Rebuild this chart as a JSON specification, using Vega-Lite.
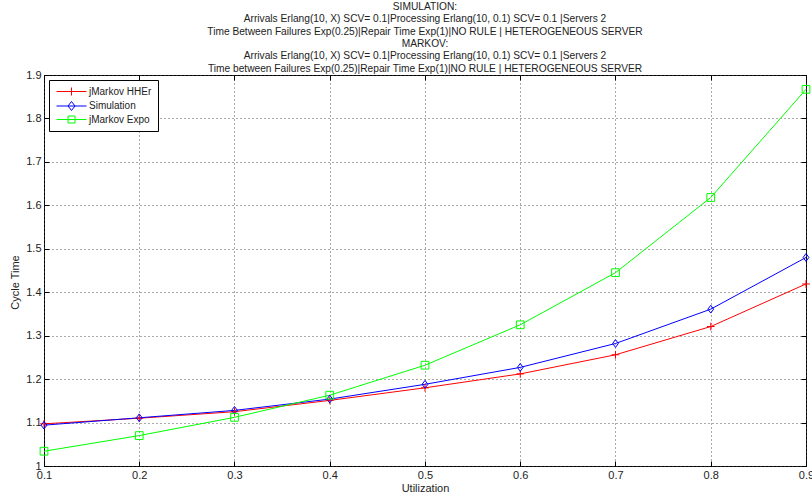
{
  "$schema": "https://vega.github.io/schema/vega-lite/v6.json",
  "autosize": "none",
  "width": 762,
  "height": 391,
  "padding": {"left": 44, "top": 75, "right": 6, "bottom": 32},
  "background": "white",
  "config": {
    "font": "Liberation Sans",
    "view": {"stroke": "black", "strokeWidth": 1},
    "axis": {
      "labelFont": "Liberation Sans", "titleFont": "Liberation Sans",
      "labelFontSize": 11, "titleFontSize": 11, "titleFontWeight": "normal",
      "labelColor": "#222", "titleColor": "#222", "labelFlush": false,
      "domain": false, "tickColor": "black", "tickSize": -5,
      "gridColor": "#444", "gridDash": [1, 3], "gridOpacity": 0.9
    }
  },
  "title": {
    "text": ["SIMULATION:", "Arrivals Erlang(10, X) SCV= 0.1|Processing Erlang(10, 0.1) SCV= 0.1 |Servers 2", "Time Between Failures Exp(0.25)|Repair Time Exp(1)|NO RULE | HETEROGENEOUS SERVER", "MARKOV:", "Arrivals Erlang(10, X) SCV= 0.1|Processing Erlang(10, 0.1) SCV= 0.1 |Servers 2", "Time between Failures Exp(0.25)|Repair Time Exp(1)|NO RULE | HETEROGENEOUS SERVER"],
    "font": "Liberation Sans", "fontSize": 10.2, "fontWeight": "normal", "color": "#222",
    "lineHeight": 12.4, "anchor": "middle", "frame": "group", "offset": -5
  },
  "data": {"values": [
    {"u": 0.1, "s": "jMarkov HHEr", "ct": 1.097},
    {"u": 0.2, "s": "jMarkov HHEr", "ct": 1.110},
    {"u": 0.3, "s": "jMarkov HHEr", "ct": 1.125},
    {"u": 0.4, "s": "jMarkov HHEr", "ct": 1.151},
    {"u": 0.5, "s": "jMarkov HHEr", "ct": 1.180},
    {"u": 0.6, "s": "jMarkov HHEr", "ct": 1.212},
    {"u": 0.7, "s": "jMarkov HHEr", "ct": 1.256},
    {"u": 0.8, "s": "jMarkov HHEr", "ct": 1.321},
    {"u": 0.9, "s": "jMarkov HHEr", "ct": 1.419},
    {"u": 0.1, "s": "Simulation", "ct": 1.094},
    {"u": 0.2, "s": "Simulation", "ct": 1.111},
    {"u": 0.3, "s": "Simulation", "ct": 1.128},
    {"u": 0.4, "s": "Simulation", "ct": 1.154},
    {"u": 0.5, "s": "Simulation", "ct": 1.188},
    {"u": 0.6, "s": "Simulation", "ct": 1.227},
    {"u": 0.7, "s": "Simulation", "ct": 1.282},
    {"u": 0.8, "s": "Simulation", "ct": 1.361},
    {"u": 0.9, "s": "Simulation", "ct": 1.480},
    {"u": 0.1, "s": "jMarkov Expo", "ct": 1.034},
    {"u": 0.2, "s": "jMarkov Expo", "ct": 1.070},
    {"u": 0.3, "s": "jMarkov Expo", "ct": 1.112},
    {"u": 0.4, "s": "jMarkov Expo", "ct": 1.163},
    {"u": 0.5, "s": "jMarkov Expo", "ct": 1.232},
    {"u": 0.6, "s": "jMarkov Expo", "ct": 1.325},
    {"u": 0.7, "s": "jMarkov Expo", "ct": 1.445},
    {"u": 0.8, "s": "jMarkov Expo", "ct": 1.618},
    {"u": 0.9, "s": "jMarkov Expo", "ct": 1.867}
  ]},
  "layer": [
    {
      "mark": {"type": "line", "strokeWidth": 1},
      "encoding": {
        "x": {"field": "u", "type": "quantitative", "scale": {"domain": [0.1, 0.9], "nice": false},
              "axis": {"title": "Utilization", "values": [0.1,0.2,0.3,0.4,0.5,0.6,0.7,0.8,0.9], "format": ".1f", "labelPadding": 8, "titlePadding": 2, "grid": true}},
        "y": {"field": "ct", "type": "quantitative", "scale": {"domain": [1, 1.9], "nice": false, "zero": false},
              "axis": {"title": "Cycle Time", "values": [1,1.1,1.2,1.3,1.4,1.5,1.6,1.7,1.8,1.9], "labelExpr": "datum.value == 1 ? '1' : format(datum.value, '.1f')", "labelPadding": 8, "titlePadding": 5, "titleY": 207, "grid": true}},
        "color": {"field": "s", "type": "nominal",
                  "scale": {"domain": ["jMarkov HHEr", "Simulation", "jMarkov Expo"], "range": ["#ff0000", "#0000ff", "#00ff00"]},
                  "legend": {"title": null, "orient": "none", "legendX": 5, "legendY": 5,
                             "padding": 6, "strokeColor": "black", "fillColor": "white",
                             "labelFont": "Liberation Sans", "labelFontSize": 10, "labelColor": "#222",
                             "symbolSize": 100, "symbolStrokeWidth": 1, "labelOffset": 23, "rowPadding": 1.5,
                             "symbolStrokeColor": "#ff0000", "symbolFillColor": "transparent",
                             "encode": {"symbols": {"update": {
                               "fill": {"value": "transparent"},
                               "stroke": [
                                 {"test": "datum.value == 'Simulation'", "value": "#0000ff"},
                                 {"test": "datum.value == 'jMarkov Expo'", "value": "#00ff00"},
                                 {"value": "#ff0000"}
                               ],
                               "strokeWidth": {"value": 1},
                               "opacity": {"value": 1},
                               "shape": {"signal": "datum.value == 'Simulation' ? 'M-0.8,0H5.2M2.2,-0.9L2.9,0L2.2,0.9L1.5,0Z' : datum.value == 'jMarkov Expo' ? 'M-0.8,0H5.2M1.5,-0.7H2.9V0.7H1.5Z' : 'M-0.8,0H5.2M2.2,-0.8V0.8'"}
                             }}}}}
      }
    },
    {
      "mark": {"type": "point", "filled": false, "strokeWidth": 1, "opacity": 1},
      "encoding": {
        "x": {"field": "u", "type": "quantitative", "axis": {"orient": "top", "labels": false, "title": null, "grid": false, "values": [0.1,0.2,0.3,0.4,0.5,0.6,0.7,0.8,0.9]}},
        "y": {"field": "ct", "type": "quantitative", "axis": {"orient": "right", "labels": false, "title": null, "grid": false, "values": [1,1.1,1.2,1.3,1.4,1.5,1.6,1.7,1.8,1.9]}},
        "color": {"field": "s", "type": "nominal", "legend": null},
        "shape": {"condition": [
                    {"test": "datum.s == 'jMarkov HHEr'", "value": "M-1,0H1M0,-1V1"},
                    {"test": "datum.s == 'Simulation'", "value": "M0,-1L0.75,0L0,1L-0.75,0Z"}
                  ],
                  "value": "M-1,-1H1V1H-1Z"},
        "size": {"value": 60}
      }
    }
  ],
  "resolve": {"axis": {"x": "independent", "y": "independent"}}
}
